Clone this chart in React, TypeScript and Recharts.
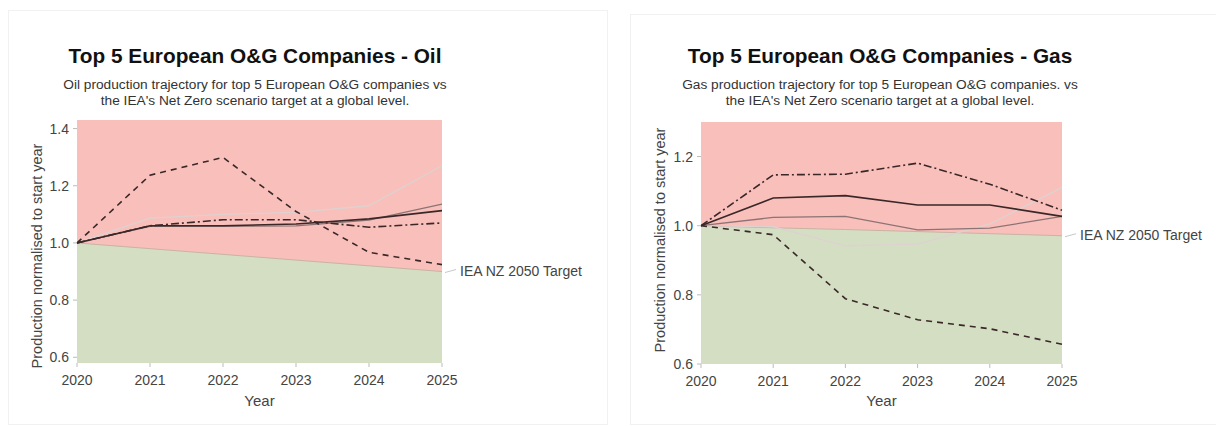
import React from 'react';
import { ComposedChart, Line, Area, XAxis, YAxis, CartesianGrid, LabelList } from 'recharts';

const years = ['2020', '2021', '2022', '2023', '2024', '2025'];

// Oil (normalised to 2020)
const oilDashed = [1.0, 1.237, 1.299, 1.11, 0.967, 0.924];
const oilDashDot = [1.0, 1.06, 1.081, 1.081, 1.055, 1.07];
const oilSolid = [1.0, 1.06, 1.06, 1.066, 1.084, 1.113];
const oilGray = [1.0, 1.058, 1.058, 1.06, 1.08, 1.136];
const oilLight = [1.0, 1.087, 1.1, 1.107, 1.13, 1.27];
const oilTarget = [1.0, 0.98, 0.96, 0.94, 0.92, 0.9];
const oilTicks = [0.6, 0.8, 1.0, 1.2, 1.4];

// Gas (normalised to 2020)
const gasDashed = [1.0, 0.974, 0.789, 0.728, 0.702, 0.657];
const gasDashDot = [1.0, 1.147, 1.149, 1.181, 1.12, 1.045];
const gasSolid = [1.0, 1.08, 1.087, 1.06, 1.06, 1.027];
const gasGray = [1.0, 1.024, 1.027, 0.988, 0.993, 1.027];
const gasLight = [1.0, 0.997, 0.942, 0.947, 1.005, 1.11];
const gasTarget = [1.0, 0.994, 0.989, 0.983, 0.977, 0.971];
const gasTicks = [0.6, 0.8, 1.0, 1.2];

const targetLabel = 'IEA NZ 2050 Target';

const FONT = '"Liberation Sans", Arial, sans-serif';
const RED = '#f9bfbb';
const GREEN = '#d4dec3';
const DARK = '#3a2828';

function buildTable(d: number[], dd: number[], s: number[], g: number[], l: number[], t: number[]) {
  return years.map((y, i) => ({
    year: y,
    dashed: d[i],
    dashdot: dd[i],
    solid: s[i],
    gray: g[i],
    light: l[i],
    target: t[i],
    lbl: i === years.length - 1 ? targetLabel : undefined,
  }));
}

const renderTargetLabel = (props: any) => {
  const { x, y, value } = props;
  if (!value) return null;
  return (
    <g>
      <line x1={x + 3} y1={y + 1} x2={x + 14} y2={y - 2} stroke="#c8c8c8" strokeWidth={1} />
      <text x={x + 18} y={y} dy={4.5} fontSize={14} fill="#444" fontFamily={FONT}>
        {value}
      </text>
    </g>
  );
};

type PanelProps = {
  title: string;
  sub1: string;
  sub2: string;
  data: any[];
  domain: [number, number];
  ticks: number[];
  width: number;
  margin: { top: number; right: number; bottom: number; left: number };
  titleX: number;
  ylabelY: number;
  ylabelX: number;
};

function Panel({ title, sub1, sub2, data, domain, ticks, width, margin, titleX, ylabelY, ylabelX }: PanelProps) {
  return (
    <div style={{ position: 'relative', width, height: 426 }}>
      <div style={{ position: 'absolute', left: 0, top: 0, width, height: 426 }}>
        <ComposedChart width={width} height={426} data={data} margin={margin}>
          <CartesianGrid horizontal={false} vertical={false} fill={RED} fillOpacity={1} />
          <XAxis
            dataKey="year"
            height={30}
            axisLine={false}
            tickLine={{ stroke: '#bbb' }}
            tickSize={4}
            tickMargin={8}
            tick={{ fontSize: 14, fill: '#444', fontFamily: FONT }}
            interval={0}
            padding={{ left: 0, right: 0 }}
          />
          <YAxis
            type="number"
            domain={domain}
            ticks={ticks}
            allowDataOverflow
            width={60}
            axisLine={false}
            tickLine={{ stroke: '#bbb' }}
            tickSize={4}
            tickMargin={4}
            tickFormatter={(v: number) => v.toFixed(1)}
            tick={{ fontSize: 14, fill: '#444', fontFamily: FONT }}
          />
          <Area
            type="linear"
            dataKey="target"
            baseValue={domain[0]}
            fill={GREEN}
            fillOpacity={1}
            stroke="#c9b3a3"
            strokeWidth={1}
            isAnimationActive={false}
            dot={false}
            activeDot={false}
          >
            <LabelList dataKey="lbl" content={renderTargetLabel} />
          </Area>
          <Line type="linear" dataKey="light" stroke="#ddd2d0" strokeWidth={1.3} dot={false} isAnimationActive={false} />
          <Line type="linear" dataKey="gray" stroke="#8c7474" strokeWidth={1.3} dot={false} isAnimationActive={false} />
          <Line type="linear" dataKey="solid" stroke={DARK} strokeWidth={1.6} dot={false} isAnimationActive={false} />
          <Line type="linear" dataKey="dashdot" stroke={DARK} strokeWidth={1.6} strokeDasharray="8 3 2 3" dot={false} isAnimationActive={false} />
          <Line type="linear" dataKey="dashed" stroke={DARK} strokeWidth={1.6} strokeDasharray="6 5" dot={false} isAnimationActive={false} />
        </ComposedChart>
      </div>
      <div style={{ position: 'absolute', left: titleX - 260, width: 520, top: 43, textAlign: 'center', fontFamily: FONT, fontWeight: 'bold', fontSize: 20.8, color: '#111', lineHeight: '26px' }}>
        {title}
      </div>
      <div style={{ position: 'absolute', left: titleX - 260, width: 520, top: 77, textAlign: 'center', fontFamily: FONT, fontSize: 13.7, color: '#333', lineHeight: '16px' }}>
        <div>{sub1}</div>
        <div>{sub2}</div>
      </div>
      <div style={{ position: 'absolute', left: ylabelX - 180, width: 360, top: ylabelY - 10, height: 20, transformOrigin: '50% 50%', transform: 'rotate(-90deg)', textAlign: 'center', fontFamily: FONT, fontSize: 14.5, color: '#444', lineHeight: '20px' }}>
        Production normalised to start year
      </div>
      <div style={{ position: 'absolute', left: margin.left + 60, width: width - margin.left - 60 - margin.right, top: 392, textAlign: 'center', fontFamily: FONT, fontSize: 15, color: '#444' }}>
        Year
      </div>
    </div>
  );
}

export default function App() {
  const oilData = buildTable(oilDashed, oilDashDot, oilSolid, oilGray, oilLight, oilTarget);
  const gasData = buildTable(gasDashed, gasDashDot, gasSolid, gasGray, gasLight, gasTarget);
  return (
    <div style={{ position: 'absolute', left: 0, top: 0, width: 1216, height: 426, background: '#fff', overflow: 'hidden' }}>
      <div style={{ position: 'absolute', left: 8, top: 10, width: 598, height: 413, border: '1px solid #f1f1f1' }} />
      <div style={{ position: 'absolute', left: 630, top: 14, width: 600, height: 409, border: '1px solid #f1f1f1' }} />
      <div style={{ position: 'absolute', left: 0, top: 0 }}>
        <Panel
          title="Top 5 European O&G Companies - Oil"
          sub1="Oil production trajectory for top 5 European O&G companies vs"
          sub2="the IEA's Net Zero scenario target at a global level."
          data={oilData}
          domain={[0.58, 1.43]}
          ticks={oilTicks}
          width={600}
          margin={{ top: 120, right: 158, bottom: 33, left: 17 }}
          titleX={255}
          ylabelY={256}
          ylabelX={37}
        />
      </div>
      <div style={{ position: 'absolute', left: 620, top: 0 }}>
        <Panel
          title="Top 5 European O&G Companies - Gas"
          sub1="Gas production trajectory for top 5 European O&G companies. vs"
          sub2="the IEA's Net Zero scenario target at a global level."
          data={gasData}
          domain={[0.6, 1.3]}
          ticks={gasTicks}
          width={596}
          margin={{ top: 122, right: 154, bottom: 32, left: 21 }}
          titleX={260}
          ylabelY={240}
          ylabelX={40}
        />
      </div>
    </div>
  );
}
